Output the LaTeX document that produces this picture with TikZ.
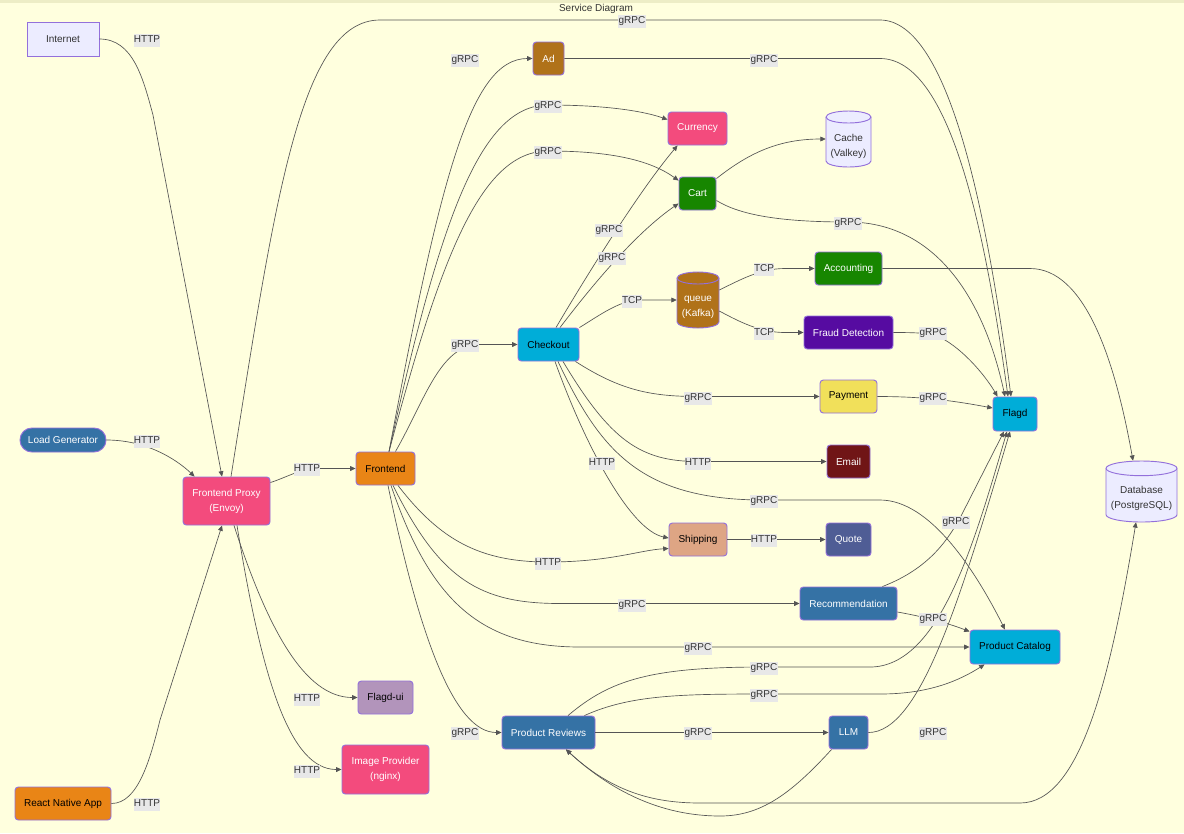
\documentclass[tikz,border=0pt]{standalone}
\usepackage{fontspec}
\setmainfont{Liberation Sans}
\usetikzlibrary{arrows.meta,calc}
\definecolor{bgc}{HTML}{FFFFDE}
\definecolor{topband}{HTML}{EDEDC6}
\definecolor{cdef}{HTML}{ECECFF}
\definecolor{bord}{HTML}{9370DB}
\definecolor{txt}{HTML}{333333}
\definecolor{lblbg}{HTML}{E8E8E8}
\definecolor{edgec}{HTML}{555555}
\definecolor{cdotnet}{HTML}{178600}
\definecolor{ccpp}{HTML}{F34B7D}
\definecolor{cgo}{HTML}{00ADD8}
\definecolor{cjava}{HTML}{B07219}
\definecolor{cjs}{HTML}{F1E05A}
\definecolor{ckotlin}{HTML}{560BA1}
\definecolor{cphp}{HTML}{4F5D95}
\definecolor{cpy}{HTML}{3572A5}
\definecolor{cruby}{HTML}{701516}
\definecolor{crust}{HTML}{DEA584}
\definecolor{cts}{HTML}{E98516}
\definecolor{celixir}{HTML}{B294BB}
\begin{document}
\begin{tikzpicture}[x=0.75pt,y=-0.75pt,
  >={Triangle[length=4pt,width=3.6pt]},
  svc/.style={draw=bord, line width=0.7pt, rounded corners=2.5pt,
    font=\fontsize{7.5pt}{11.25pt}\selectfont, align=center, inner sep=0pt,
    minimum height=24.75pt},
  cylbox/.style={draw=none, inner sep=0pt},
  cyltext/.style={align=center, font=\fontsize{7.5pt}{11.25pt}\selectfont, yshift=-5.3pt, inner sep=0pt},
  lbl/.style={fill=lblbg, text=txt, font=\fontsize{7.5pt}{9pt}\selectfont,
    inner xsep=0.3pt, inner ysep=1.5pt, text height=5.4pt, text depth=1.8pt, yshift=-1pt},
  conn/.style={draw=edgec, line width=0.5pt, ->},
  ttl/.style={text=txt, font=\fontsize{7.5pt}{9pt}\selectfont, inner sep=0pt}
]
\useasboundingbox (0,0) rectangle (1184,833);
\fill[bgc] (0,0) rectangle (1184,833);
\fill[topband] (0,0) rectangle (1184,2.5);

\node[ttl] (title) at (596,9) {Service Diagram};

% cylinders
\begin{scope}[shift={(848.5,139)}]
 \path[draw=bord,fill=cdef,line width=0.7pt] (-16.875pt,16.5pt) -- (-16.875pt,-16.5pt) arc[start angle=180,end angle=360,x radius=16.875pt,y radius=4.5pt] -- (16.875pt,16.5pt) arc[start angle=0,end angle=180,x radius=16.875pt,y radius=4.5pt] -- cycle;
 \draw[bord,line width=0.7pt] (-16.875pt,16.5pt) arc[start angle=180,end angle=360,x radius=16.875pt,y radius=4.5pt];
\end{scope}
\begin{scope}[shift={(698,300)}]
 \path[draw=bord,fill=cjava,line width=0.7pt] (-15.75pt,16.5pt) -- (-15.75pt,-16.5pt) arc[start angle=180,end angle=360,x radius=15.75pt,y radius=4.5pt] -- (15.75pt,16.5pt) arc[start angle=0,end angle=180,x radius=15.75pt,y radius=4.5pt] -- cycle;
 \draw[bord,line width=0.7pt] (-15.75pt,16.5pt) arc[start angle=180,end angle=360,x radius=15.75pt,y radius=4.5pt];
\end{scope}
\begin{scope}[shift={(1141.5,491.5)}]
 \path[draw=bord,fill=cdef,line width=0.7pt] (-26.625pt,17.375pt) -- (-26.625pt,-17.375pt) arc[start angle=180,end angle=360,x radius=26.625pt,y radius=5.5pt] -- (26.625pt,17.375pt) arc[start angle=0,end angle=180,x radius=26.625pt,y radius=5.5pt] -- cycle;
 \draw[bord,line width=0.7pt] (-26.625pt,17.375pt) arc[start angle=180,end angle=360,x radius=26.625pt,y radius=5.5pt];
\end{scope}

% nodes
\node[svc, fill=cdef, text=txt, rounded corners=0pt, minimum width=54pt, minimum height=25.5pt] (internet) at (63,39) {Internet};
\node[svc, fill=cpy, text=white, rounded corners=8.9pt, minimum width=64.5pt, minimum height=18pt] (loadgen) at (63,440) {Load Generator};
\node[svc, fill=cts, text=black, minimum width=72pt] (react) at (63,803.5) {React Native App};
\node[svc, fill=ccpp, text=white, minimum width=65.25pt, minimum height=36pt] (proxy) at (226.5,501) {Frontend Proxy\\(Envoy)};
\node[svc, fill=cts, text=black, minimum width=44.25pt] (frontend) at (385.5,468.5) {Frontend};
\node[svc, fill=celixir, text=black, minimum width=41.25pt] (flagdui) at (385.5,697.5) {Flagd-ui};
\node[svc, fill=ccpp, text=white, minimum width=65.25pt, minimum height=36.75pt] (imgprov) at (385.5,769.5) {Image Provider\\(nginx)};
\node[svc, fill=cjava, text=white, minimum width=23.25pt] (ad) at (548.5,58.5) {Ad};
\node[svc, fill=ccpp, text=white, minimum width=44.25pt] (currency) at (697.5,128.5) {Currency};
\node[svc, fill=cdotnet, text=white, minimum width=27.75pt] (cart) at (697.5,193.5) {Cart};
\node[cylbox, minimum width=33.75pt, minimum height=42pt, label={[cyltext, text=txt]center:Cache\\(Valkey)}] (cache) at (848.5,139) {};
\node[svc, fill=cgo, text=black, minimum width=45.75pt] (checkout) at (548.5,344.5) {Checkout};
\node[cylbox, minimum width=31.5pt, minimum height=42pt, label={[cyltext, text=white]center:queue\\(Kafka)}] (queue) at (698,300) {};
\node[svc, fill=cdotnet, text=white, minimum width=50.25pt] (accounting) at (848.5,268.5) {Accounting};
\node[svc, fill=ckotlin, text=white, minimum width=66.75pt] (fraud) at (848.5,332.5) {Fraud Detection};
\node[svc, fill=cjs, text=black, minimum width=42.75pt] (payment) at (848.5,396.5) {Payment};
\node[svc, fill=cruby, text=white, minimum width=32.25pt] (email) at (848.5,461.5) {Email};
\node[svc, fill=crust, text=black, minimum width=43.5pt] (shipping) at (698,539.5) {Shipping};
\node[svc, fill=cphp, text=white, minimum width=33.75pt] (quote) at (848.5,539.5) {Quote};
\node[svc, fill=cpy, text=white, minimum width=72.75pt] (recommendation) at (848.5,603.5) {Recommendation};
\node[svc, fill=cgo, text=black, minimum width=33pt, minimum height=25.5pt] (flagd) at (1015,414) {Flagd};
\node[svc, fill=cgo, text=black, minimum width=67.5pt, minimum height=25.5pt] (catalog) at (1015,647) {Product Catalog};
\node[cylbox, minimum width=53.25pt, minimum height=45.75pt, label={[cyltext, text=txt]center:Database\\(PostgreSQL)}] (database) at (1141.5,491.5) {};
\node[svc, fill=cpy, text=white, minimum width=69.75pt] (reviews) at (548.5,732.5) {Product Reviews};
\node[svc, fill=cpy, text=white, minimum width=29.25pt] (llm) at (848.5,732.5) {LLM};

% connectors
\draw[conn] (internet.east) .. controls (133,39) and (143,78) .. (153,115) -- ($(proxy.north)+(-4.5,0)$);
\draw[conn] (loadgen.east) .. controls (145,440) and (175,458) .. ($(proxy.north west)+(12,0)$);
\draw[conn] (react.east) .. controls (138,803.5) and (150,760) .. (160,720) -- ($(proxy.south)+(-4.5,0)$);
\draw[conn] ($(proxy.north)+(4.5,0)$) .. controls (275,200) and (300,20) .. (380,20) -- (880,20) .. controls (950,20) and (988,220) .. ($(flagd.north)+(-4,0)$);
\draw[conn] ($(proxy.north east)+(0,6)$) .. controls (290,476) and (300,468.5) .. (320,468.5) -- (frontend.west);
\draw[conn] ($(proxy.south)+(7.5,0)$) .. controls (268,630) and (305,697.5) .. (flagdui.west);
\draw[conn] ($(proxy.south)+(10.5,0)$) .. controls (262,680) and (290,769.5) .. (imgprov.west);
\draw[conn] ($(frontend.north)+(3.5,0)$) .. controls (440,180) and (470,58.5) .. (ad.west);
\draw[conn] ($(frontend.north)+(3.5,0)$) .. controls (440,220) and (480,105) .. (548,105) .. controls (600,105) and (640,110) .. ($(currency.north west)+(0,8)$);
\draw[conn] ($(frontend.north)+(3.5,0)$) .. controls (440,260) and (480,151) .. (548,151) .. controls (610,151) and (650,160) .. ($(cart.north west)+(0,4)$);
\draw[conn] ($(frontend.north east)+(-20,0)$) .. controls (425,400) and (440,344.5) .. (480,344.5) -- (checkout.west);
\draw[conn] ($(frontend.south)+(12.5,0)$) .. controls (440,540) and (480,562) .. (548,562) .. controls (610,562) and (640,550) .. ($(shipping.west)+(0,9)$);
\draw[conn] ($(frontend.south)+(7.5,0)$) .. controls (440,580) and (480,603.5) .. (560,603.5) -- (recommendation.west);
\draw[conn] ($(frontend.south)+(5.5,0)$) .. controls (430,600) and (480,647) .. (580,647) -- (catalog.west);
\draw[conn] ($(frontend.south)+(2.5,0)$) .. controls (420,640) and (455,732.5) .. (reviews.west);
\draw[conn] (ad.east) -- (880,58.5) .. controls (950,58.5) and (985,230) .. ($(flagd.north)+(-7,0)$);
\draw[conn] ($(cart.north east)+(0,2)$) .. controls (750,152) and (780,139) .. (cache.west);
\draw[conn] ($(cart.east)+(0,7)$) .. controls (740,215) and (780,222) .. (848,222) .. controls (930,222) and (982,290) .. ($(flagd.north)+(-10,0)$);
\draw[conn] ($(checkout.north)+(7.5,0)$) .. controls (590,270) and (640,190) .. ($(currency.south west)+(10,0)$);
\draw[conn] ($(checkout.north)+(11.5,0)$) .. controls (600,275) and (640,230) .. ($(cart.west)+(0,10)$);
\draw[conn] (checkout.north east) .. controls (600,315) and (620,300) .. (640,300) -- (queue.west);
\draw[conn] ($(queue.east)+(0,-10)$) .. controls (740,280) and (760,268.5) .. (785,268.5) -- (accounting.west);
\draw[conn] ($(queue.east)+(0,11)$) .. controls (740,322) and (760,332.5) .. (785,332.5) -- (fraud.west);
\draw[conn] (accounting.east) -- (1030,268.5) .. controls (1085,268.5) and (1115,360) .. ($(database.north)+(-8.5,0)$);
\draw[conn] (fraud.east) .. controls (915,332.5) and (925,333) .. (935,335) .. controls (960,345) and (985,375) .. ($(flagd.north west)+(5,0)$);
\draw[conn] ($(checkout.south east)+(-4,0)$) .. controls (620,390) and (650,396.5) .. (698,396.5) -- (payment.west);
\draw[conn] (payment.east) .. controls (920,396.5) and (950,400) .. ($(flagd.west)+(0,-6)$);
\draw[conn] ($(checkout.south)+(14.5,0)$) .. controls (610,440) and (640,461.5) .. (698,461.5) -- (email.west);
\draw[conn] ($(checkout.south)+(6.5,0)$) .. controls (585,445) and (630,530) .. ($(shipping.west)+(0,-1.5)$);
\draw[conn] ($(checkout.south)+(9.5,0)$) .. controls (600,450) and (640,500) .. (764,500) -- (880,500) .. controls (930,500) and (975,570) .. ($(catalog.north)+(-10,0)$);
\draw[conn] (shipping.east) -- (quote.west);
\draw[conn] ($(recommendation.north east)+(-15,0)$) .. controls (925,570) and (945,545) .. (960,518) -- ($(flagd.south)+(-11,0)$);
\draw[conn] ($(recommendation.east)+(0,8.5)$) .. controls (920,616) and (945,622) .. ($(catalog.north west)+(0,2)$);
\draw[conn] ($(reviews.north)+(19.5,0)$) .. controls (610,680) and (650,667) .. (764,667) -- (870,667) .. controls (940,667) and (975,540) .. ($(flagd.south)+(-8,0)$);
\draw[conn] ($(reviews.north east)+(-11,0)$) .. controls (630,695) and (680,694) .. (764,694) -- (880,694) .. controls (930,694) and (960,680) .. ($(catalog.south west)+(15,0)$);
\draw[conn] (reviews.east) -- (llm.west);
\draw[conn] (llm.east) .. controls (920,732.5) and (960,600) .. ($(flagd.south)+(-5,0)$);
\draw[conn] ($(llm.south west)+(3,0)$) .. controls (790,795) and (760,816) .. (720,816) .. controls (660,816) and (610,790) .. ($(reviews.south)+(17.5,0)$);
\draw[conn,<->] ($(reviews.south)+(17.5,0)$) .. controls (610,790) and (650,803) .. (700,803) -- (1020,803) .. controls (1080,803) and (1110,680) .. ($(database.south)+(-5.5,0)$);

% labels
\node[lbl] (l1) at (147,39) {HTTP};
\node[lbl] (l2) at (147,440) {HTTP};
\node[lbl] (l3) at (147,803) {HTTP};
\node[lbl] (l4) at (632,20) {gRPC};
\node[lbl] (l5) at (307,468) {HTTP};
\node[lbl] (l6) at (307,698) {HTTP};
\node[lbl] (l7) at (307,770) {HTTP};
\node[lbl] (l8) at (465,59) {gRPC};
\node[lbl] (l9) at (548,105) {gRPC};
\node[lbl] (l10) at (548,151) {gRPC};
\node[lbl] (l11) at (465,344) {gRPC};
\node[lbl] (l12) at (548,562) {HTTP};
\node[lbl] (l13) at (632,604) {gRPC};
\node[lbl] (l14) at (698,647) {gRPC};
\node[lbl] (l15) at (465,732) {gRPC};
\node[lbl] (l16) at (764,59) {gRPC};
\node[lbl] (l18) at (848,222) {gRPC};
\node[lbl] (l19) at (609,229) {gRPC};
\node[lbl] (l20) at (612,257) {gRPC};
\node[lbl] (l21) at (632,300) {TCP};
\node[lbl] (l22) at (764,268) {TCP};
\node[lbl] (l23) at (764,332) {TCP};
\node[lbl] (l25) at (933,332) {gRPC};
\node[lbl] (l26) at (698,397) {gRPC};
\node[lbl] (l27) at (933,397) {gRPC};
\node[lbl] (l28) at (698,462) {HTTP};
\node[lbl] (l29) at (602,462) {HTTP};
\node[lbl] (l30) at (764,500) {gRPC};
\node[lbl] (l31) at (764,539) {HTTP};
\node[lbl] (l32) at (956,521) {gRPC};
\node[lbl] (l33) at (933,618) {gRPC};
\node[lbl] (l34) at (764,667) {gRPC};
\node[lbl] (l35) at (764,694) {gRPC};
\node[lbl] (l36) at (698,732) {gRPC};
\node[lbl] (l37) at (933,732) {gRPC};
\end{tikzpicture}
\end{document}
